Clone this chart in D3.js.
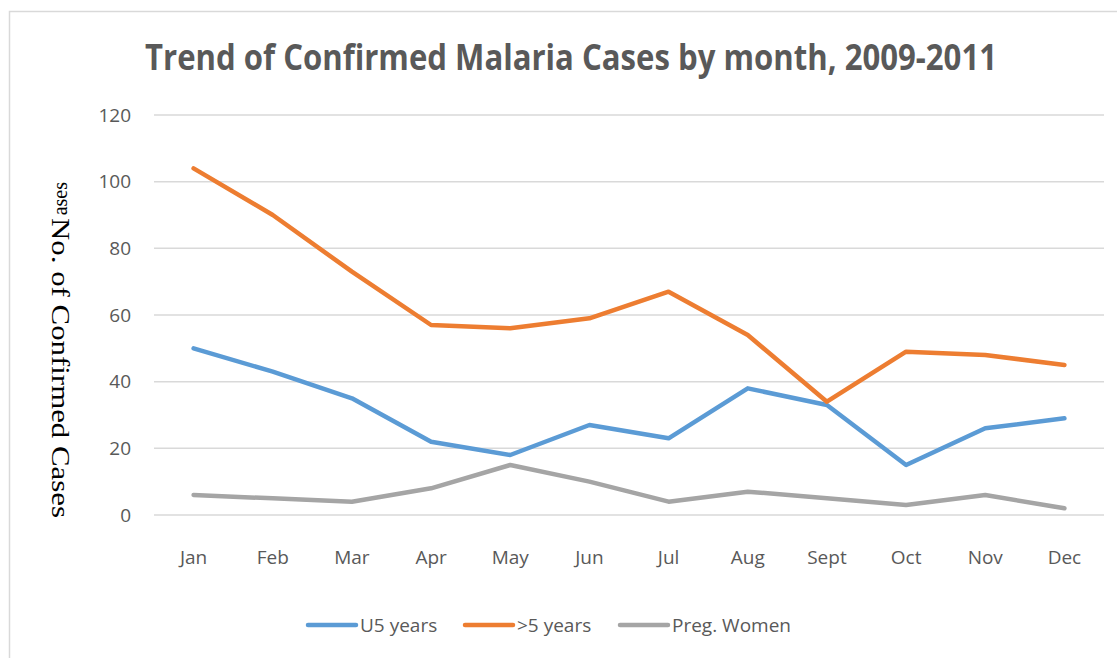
<!DOCTYPE html>
<html>
<head>
<meta charset="utf-8">
<script src="https://cdn.jsdelivr.net/npm/d3@7"></script>
<style>
  body { margin: 0; background: #fff; }
  text { font-family: "Open Sans", sans-serif; fill: #595959; }
</style>
</head>
<body>
<script>
// chart data
var months = ["Jan", "Feb", "Mar", "Apr", "May", "Jun", "Jul", "Aug", "Sept", "Oct", "Nov", "Dec"];
var u5Years = [50, 43, 35, 22, 18, 27, 23, 38, 33, 15, 26, 29];
var over5Years = [104, 90, 73, 57, 56, 59, 67, 54, 34, 49, 48, 45];
var pregWomen = [6, 5, 4, 8, 15, 10, 4, 7, 5, 3, 6, 2];
var yTicks = [0, 20, 40, 60, 80, 100, 120];
var seriesNames = ["U5 years", ">5 years", "Preg. Women"];
var seriesColors = ["#5b9bd5", "#ed7d31", "#a5a5a5"];

window.onload = start;

function start() {
    var width = 1117;
    var height = 658;

    var svg = d3.select("body").append("svg")
        .attr("width", width)
        .attr("height", height);

    // chart frame (runs off the page on the right and bottom)
    svg.append("rect")
        .attr("x", 9.5).attr("y", 11.5)
        .attr("width", 1200).attr("height", 700)
        .attr("fill", "none")
        .attr("stroke", "#d9d9d9")
        .attr("stroke-width", 1.5);

    // title
    svg.append("text")
        .attr("x", 571).attr("y", 70)
        .attr("text-anchor", "middle")
        .attr("font-size", 35)
        .attr("font-weight", "bold")
        .attr("textLength", 852)
        .attr("lengthAdjust", "spacingAndGlyphs")
        .text("Trend of Confirmed Malaria Cases by month, 2009-2011");

    var x = d3.scalePoint()
        .domain(months)
        .range([154, 1104])
        .padding(0.5);

    var y = d3.scaleLinear()
        .domain([0, 120])
        .range([515, 115]);

    // gridlines
    svg.append("g")
        .selectAll("line")
        .data(yTicks)
        .enter()
        .append("line")
        .attr("x1", 154).attr("x2", 1104)
        .attr("y1", function(d) { return y(d); })
        .attr("y2", function(d) { return y(d); })
        .attr("stroke", "#d9d9d9")
        .attr("stroke-width", 1.5);

    // y tick labels
    svg.append("g")
        .selectAll("text")
        .data(yTicks)
        .enter()
        .append("text")
        .attr("x", 131)
        .attr("y", function(d) { return y(d); })
        .attr("dy", "0.35em")
        .attr("text-anchor", "end")
        .attr("font-size", 19)
        .text(function(d) { return d; });

    // month labels
    svg.append("g")
        .selectAll("text")
        .data(months)
        .enter()
        .append("text")
        .attr("x", function(d) { return x(d); })
        .attr("y", 564)
        .attr("text-anchor", "middle")
        .attr("font-size", 19)
        .text(function(d) { return d; });

    // y axis title
    svg.append("text")
        .attr("transform", "translate(60,218) rotate(90)")
        .attr("dominant-baseline", "central")
        .style("font-family", "'Liberation Serif', 'Times New Roman', serif")
        .style("fill", "#000")
        .attr("font-size", 25)
        .attr("textLength", 300)
        .attr("lengthAdjust", "spacingAndGlyphs")
        .text("No. of Confirmed Cases");

    // stray overlapping label piece at the top
    svg.append("clipPath").attr("id", "stray")
        .append("rect").attr("x", 40).attr("y", 176).attr("width", 40).attr("height", 40);
    svg.append("g")
        .attr("clip-path", "url(#stray)")
        .append("text")
        .attr("transform", "translate(60,182) rotate(-90)")
        .attr("text-anchor", "end")
        .attr("dominant-baseline", "central")
        .style("font-family", "'Liberation Serif', 'Times New Roman', serif")
        .style("fill", "#000")
        .attr("font-size", 20)
        .text("Cases");

    // lines
    var allSeries = [u5Years, over5Years, pregWomen];
    var line = d3.line()
        .x(function(d, i) { return x(months[i]); })
        .y(function(d) { return y(d); });

    svg.append("g")
        .selectAll("path")
        .data(allSeries)
        .enter()
        .append("path")
        .attr("d", line)
        .attr("fill", "none")
        .attr("stroke", function(d, i) { return seriesColors[i]; })
        .attr("stroke-width", 4.5)
        .attr("stroke-linejoin", "round")
        .attr("stroke-linecap", "round");

    // legend
    var legendX = [308, 465, 620];
    var legend = svg.append("g")
        .selectAll("g")
        .data(seriesNames)
        .enter()
        .append("g")
        .attr("transform", function(d, i) { return "translate(" + legendX[i] + ",625)"; });

    legend.append("line")
        .attr("x1", 0).attr("x2", 48)
        .attr("stroke", function(d, i) { return seriesColors[i]; })
        .attr("stroke-width", 4.5)
        .attr("stroke-linecap", "round");

    legend.append("text")
        .attr("x", 52)
        .attr("dy", "0.35em")
        .attr("font-size", 19)
        .text(function(d) { return d; });
}
</script>
</body>
</html>
